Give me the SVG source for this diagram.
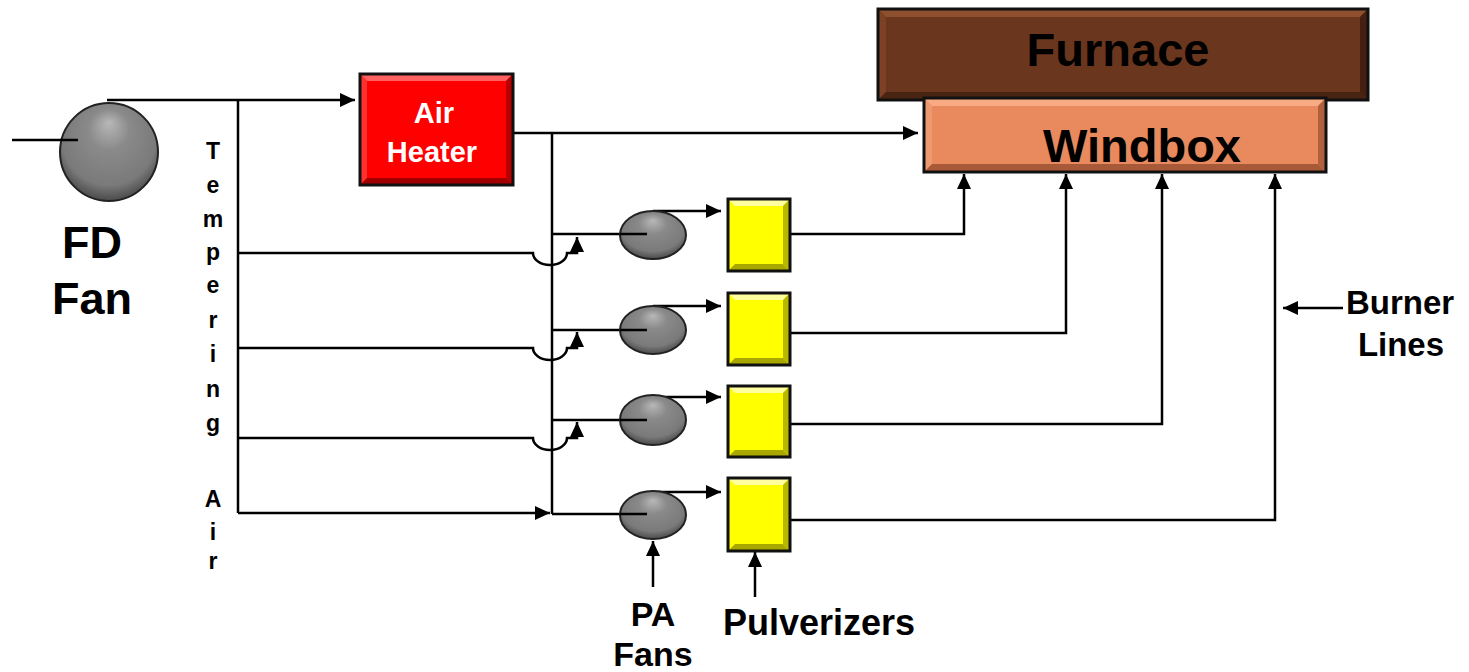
<svg xmlns="http://www.w3.org/2000/svg" width="1469" height="672" viewBox="0 0 1469 672">
<style>
.ln{fill:none;stroke:#000;stroke-width:2.5}
.arr{marker-end:url(#ah)}
.box{fill:none;stroke:#111;stroke-width:3}
.t{font-family:"Liberation Sans",Arial,sans-serif;font-weight:bold;fill:#000}
.tw{font-family:"Liberation Sans",Arial,sans-serif;font-weight:bold;fill:#fff}
.fan{fill:url(#fang);stroke:#222;stroke-width:2}
</style>
<defs>
<marker id="ah" markerUnits="userSpaceOnUse" markerWidth="16" markerHeight="16" viewBox="0 0 16 16" refX="15" refY="8" orient="auto">
<path d="M0,1 L15,8 L0,15 Z" fill="#000"/>
</marker>
<radialGradient id="fang" cx="0.5" cy="0.4" r="0.6" fx="0.5" fy="0.2">
<stop offset="0" stop-color="#b8b8b8"/>
<stop offset="0.35" stop-color="#8a8a8a"/>
<stop offset="0.8" stop-color="#7a7a7a"/>
<stop offset="1" stop-color="#4a4a4a"/>
</radialGradient>
</defs>
<rect width="1469" height="672" fill="#fff"/>

<g id="connectors">
<path class="ln" d="M12,140 H78"/>
<path class="ln arr" d="M107,100 H355"/>
<path class="ln" d="M238,100 V513"/>
<path class="ln arr" d="M512,133 H918"/>
<path class="ln" d="M552,133 V514"/>
<path class="ln arr" d="M238,253 H533 A17,12 0 0 0 567,253 H577 V237"/>
<path class="ln arr" d="M238,348 H533 A17,12 0 0 0 567,348 H577 V332"/>
<path class="ln arr" d="M238,438 H533 A17,12 0 0 0 567,438 H577 V422"/>
<path class="ln arr" d="M238,513 H550"/>
<path class="ln" d="M552,234 H647"/>
<path class="ln" d="M552,330 H647"/>
<path class="ln" d="M552,420 H647"/>
<path class="ln" d="M552,514 H647"/>
<path class="ln arr" d="M653,211 H721"/>
<path class="ln arr" d="M653,306 H721"/>
<path class="ln arr" d="M653,397 H721"/>
<path class="ln arr" d="M653,492 H721"/>
<path class="ln arr" d="M790,234 H964 V174"/>
<path class="ln arr" d="M790,333 H1066 V174"/>
<path class="ln arr" d="M790,424 H1162 V174"/>
<path class="ln arr" d="M790,520 H1275 V174"/>
<path class="ln arr" d="M1343,308 H1283"/>
<path class="ln arr" d="M653,587 V541"/>
<path class="ln arr" d="M755,597 V552"/>
</g>

<g id="fd-fan">
<circle class="fan" cx="109" cy="152" r="49"/>
<path class="ln" d="M60,140 H78"/>
<text class="t" x="92" y="258" font-size="45" text-anchor="middle">FD</text>
<text class="t" x="92" y="314" font-size="45" text-anchor="middle">Fan</text>
</g>

<g id="tempering-air" class="t" font-size="23" text-anchor="middle">
<text x="213" y="159">T</text>
<text x="213" y="193">e</text>
<text x="213" y="227">m</text>
<text x="213" y="260">p</text>
<text x="213" y="293">e</text>
<text x="213" y="328">r</text>
<text x="213" y="362">i</text>
<text x="213" y="397">n</text>
<text x="213" y="431">g</text>
<text x="213" y="507">A</text>
<text x="213" y="540">i</text>
<text x="213" y="569">r</text>
</g>

<g id="air-heater">
<rect x="360" y="74" width="153" height="111" fill="#ff0000"/>
<polygon points="360,74 513,74 506,81 367,81" fill="#ff6060"/>
<polygon points="360,74 367,81 367,178 360,185" fill="#ff3030"/>
<polygon points="513,74 513,185 506,178 506,81" fill="#b80000"/>
<polygon points="360,185 367,178 506,178 513,185" fill="#a00000"/>
<rect class="box" x="360" y="74" width="153" height="111"/>
<text class="tw" x="434" y="123" font-size="29" text-anchor="middle">Air</text>
<text class="tw" x="432" y="162" font-size="29" text-anchor="middle">Heater</text>
</g>

<g id="furnace">
<rect x="878" y="9" width="490" height="91" fill="#6b361e"/>
<polygon points="878,9 1368,9 1360,17 886,17" fill="#8f5030"/>
<polygon points="878,9 886,17 886,92 878,100" fill="#7d4226"/>
<polygon points="1368,9 1368,100 1360,92 1360,17" fill="#452010"/>
<polygon points="878,100 886,92 1360,92 1368,100" fill="#4a2412"/>
<rect class="box" x="878" y="9" width="490" height="91"/>
<text class="t" x="1118" y="66" font-size="47" text-anchor="middle">Furnace</text>
</g>

<g id="windbox">
<rect x="924" y="98" width="402" height="74" fill="#e8895e"/>
<polygon points="924,98 1326,98 1318,106 932,106" fill="#f8aa82"/>
<polygon points="924,98 932,106 932,164 924,172" fill="#ee9a70"/>
<polygon points="1326,98 1326,172 1318,164 1318,106" fill="#b0603c"/>
<polygon points="924,172 932,164 1318,164 1326,172" fill="#a85a38"/>
<rect class="box" x="924" y="98" width="402" height="74"/>
<text class="t" x="1142" y="162" font-size="47" text-anchor="middle">Windbox</text>
</g>

<g id="pa-fans">
<ellipse class="fan" cx="653" cy="235" rx="33" ry="24"/>
<ellipse class="fan" cx="653" cy="330" rx="33" ry="24"/>
<ellipse class="fan" cx="653" cy="420" rx="33" ry="25"/>
<ellipse class="fan" cx="653" cy="515" rx="33" ry="24"/>
<path class="ln" d="M620,234 H647 M620,330 H647 M620,420 H647 M620,514 H647"/>
<text class="t" x="653" y="626" font-size="34" text-anchor="middle">PA</text>
<text class="t" x="653" y="666" font-size="34" text-anchor="middle">Fans</text>
</g>

<g id="pulverizers">
<g id="pulv1">
<rect x="728" y="199" width="62" height="72" fill="#ffff00"/>
<polygon points="728,199 790,199 783,206 735,206" fill="#ffffa0"/>
<polygon points="790,199 790,271 783,264 783,206" fill="#b8b800"/>
<polygon points="728,271 735,264 783,264 790,271" fill="#a8a800"/>
<rect class="box" x="728" y="199" width="62" height="72"/>
</g>
<g id="pulv2">
<rect x="728" y="293" width="62" height="72" fill="#ffff00"/>
<polygon points="728,293 790,293 783,300 735,300" fill="#ffffa0"/>
<polygon points="790,293 790,365 783,358 783,300" fill="#b8b800"/>
<polygon points="728,365 735,358 783,358 790,365" fill="#a8a800"/>
<rect class="box" x="728" y="293" width="62" height="72"/>
</g>
<g id="pulv3">
<rect x="728" y="386" width="62" height="71" fill="#ffff00"/>
<polygon points="728,386 790,386 783,393 735,393" fill="#ffffa0"/>
<polygon points="790,386 790,457 783,450 783,393" fill="#b8b800"/>
<polygon points="728,457 735,450 783,450 790,457" fill="#a8a800"/>
<rect class="box" x="728" y="386" width="62" height="71"/>
</g>
<g id="pulv4">
<rect x="728" y="478" width="62" height="73" fill="#ffff00"/>
<polygon points="728,478 790,478 783,485 735,485" fill="#ffffa0"/>
<polygon points="790,478 790,551 783,544 783,485" fill="#b8b800"/>
<polygon points="728,551 735,544 783,544 790,551" fill="#a8a800"/>
<rect class="box" x="728" y="478" width="62" height="73"/>
</g>
<text class="t" x="819" y="635" font-size="36" text-anchor="middle">Pulverizers</text>
</g>

<g id="burner-lines">
<text class="t" x="1400" y="314" font-size="33" text-anchor="middle">Burner</text>
<text class="t" x="1401" y="356" font-size="33" text-anchor="middle">Lines</text>
</g>
</svg>
